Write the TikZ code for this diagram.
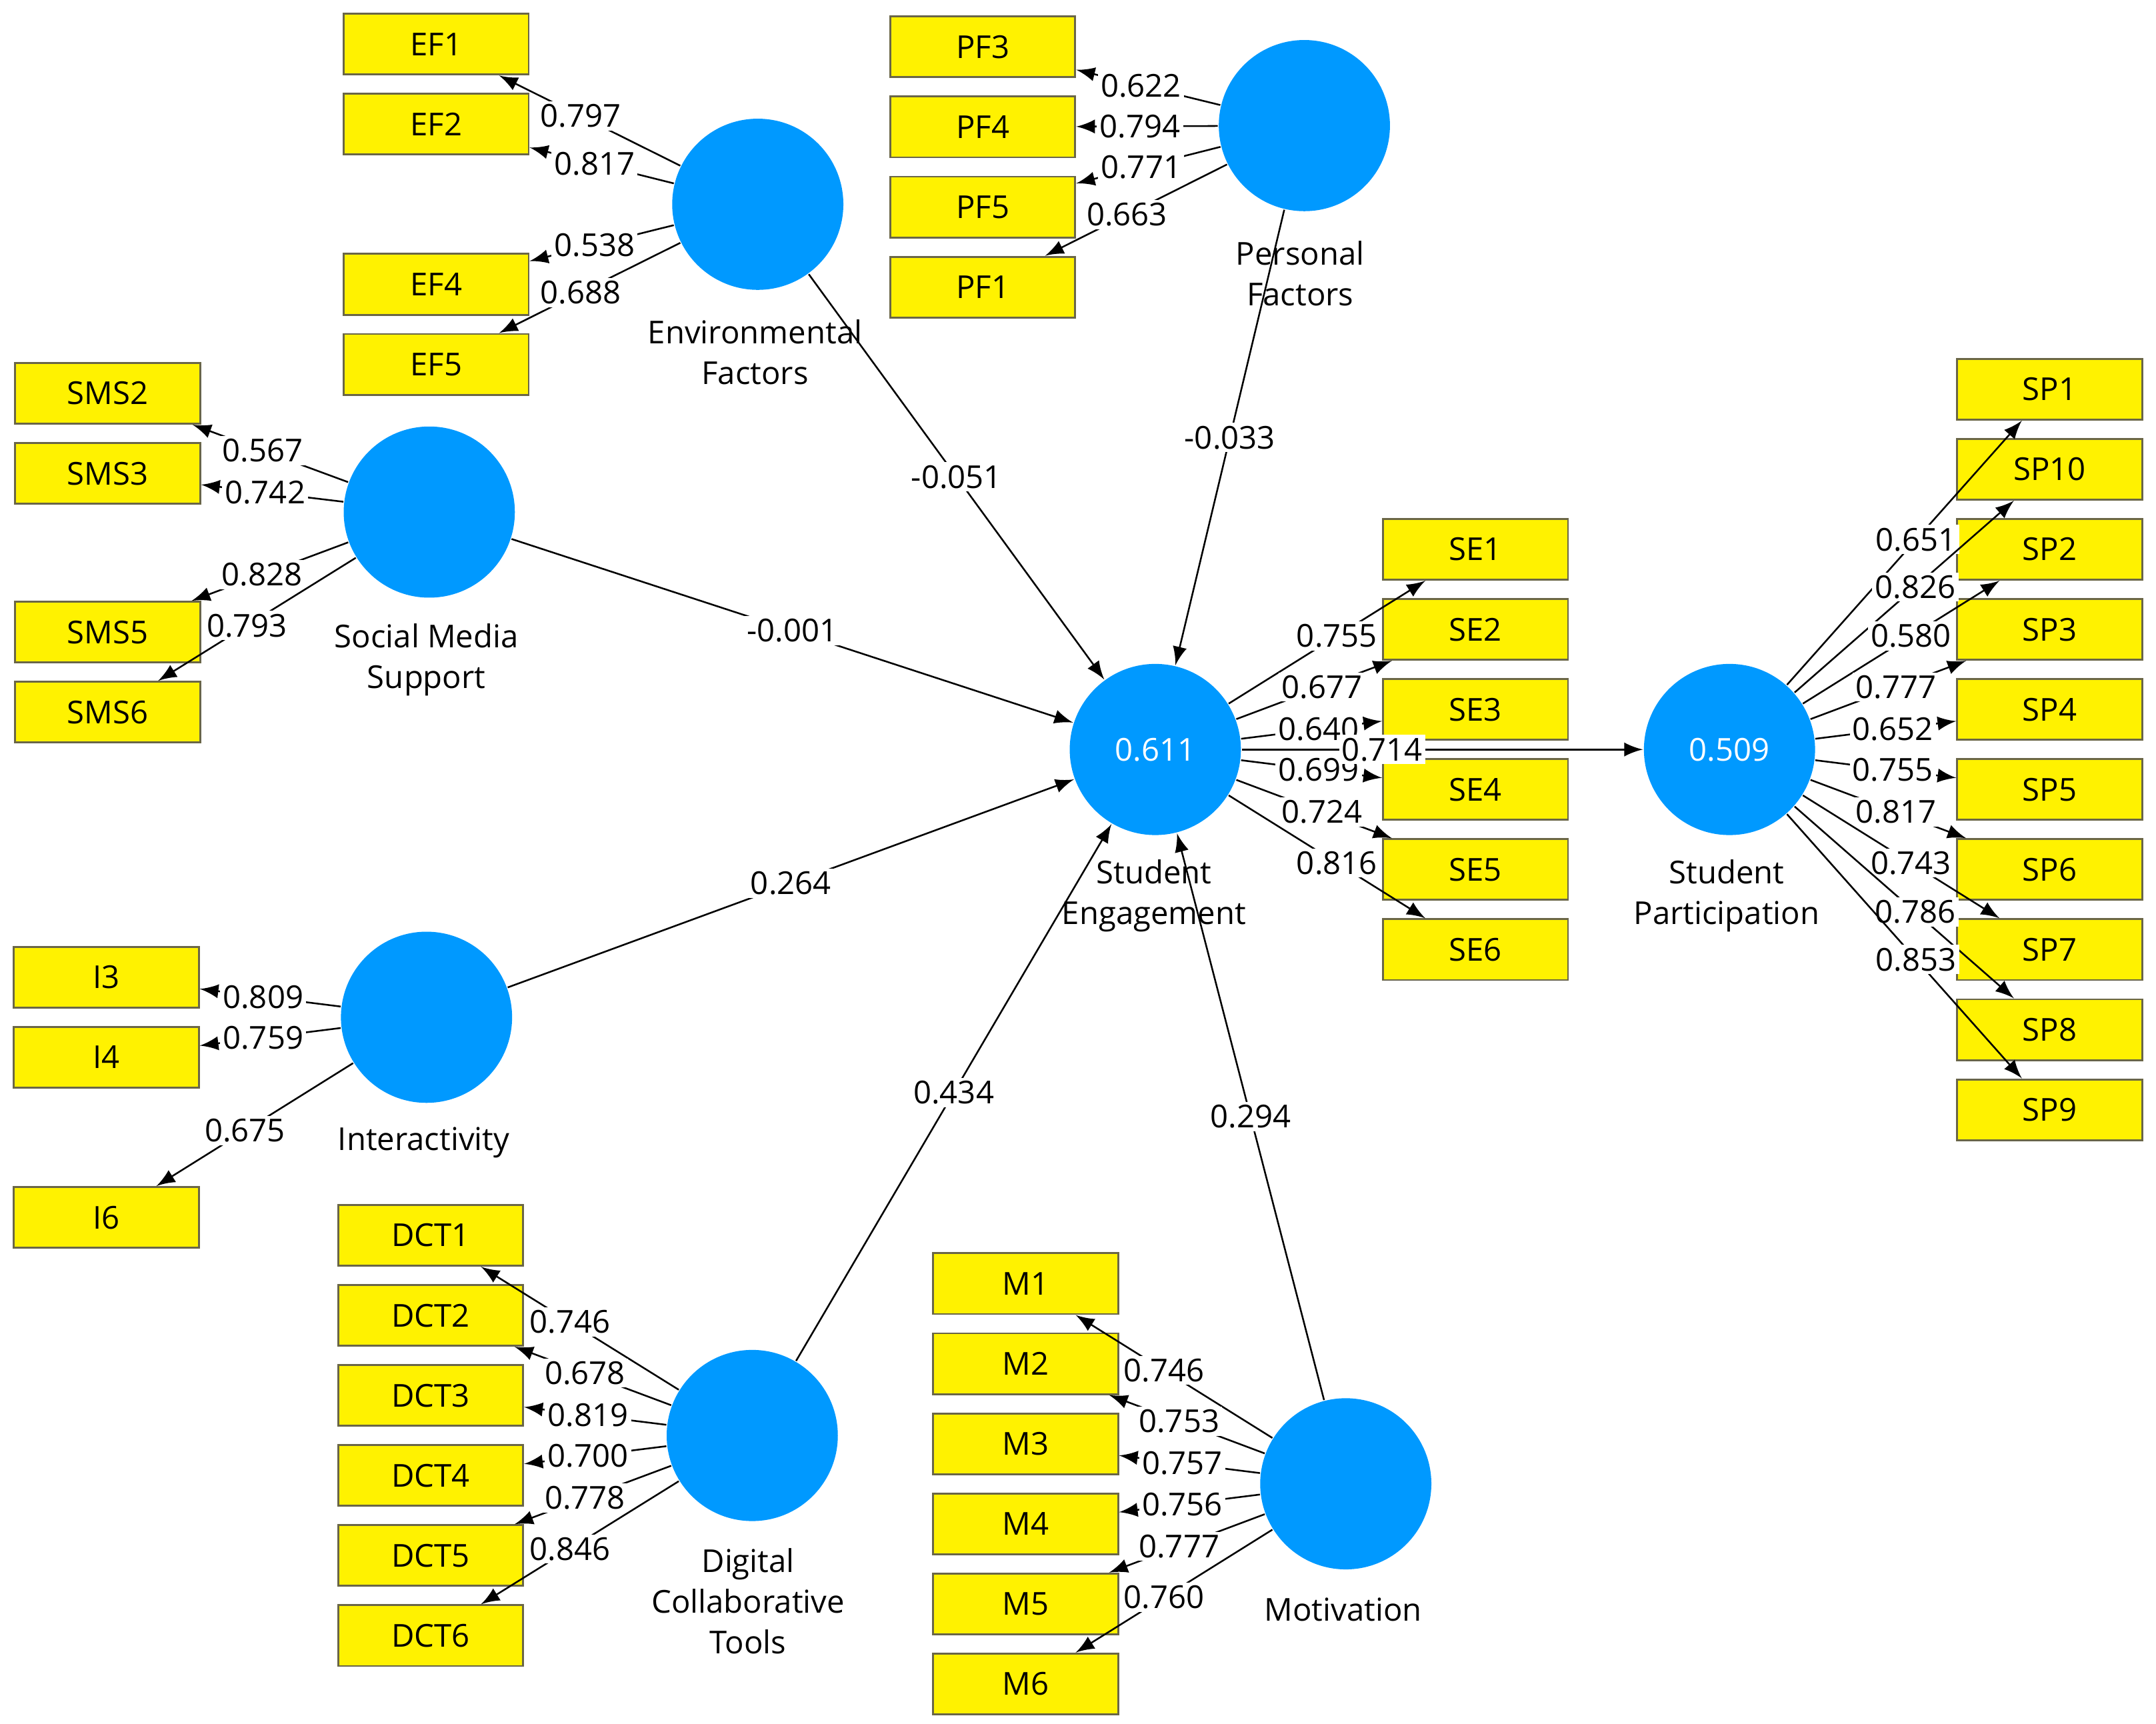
\documentclass[tikz,border=0pt]{standalone}
\usepackage{fontspec}
\setmainfont{Open Sans}
\begin{document}
\begin{tikzpicture}[x=0.1mm,y=-0.1mm,
 box/.style={draw=black!45!yellow!60!black,fill=yellow,minimum width=13.4mm,minimum height=4.4mm,inner sep=0pt,font=\fontsize{6.5}{7}\selectfont},
 lv/.style={circle,fill=cyan!60!blue!90!white,fill=blue!40!cyan,minimum size=12.4mm,inner sep=0pt,text=white,font=\fontsize{6.5}{7}\selectfont},
 nm/.style={align=center,font=\fontsize{6.5}{8.4}\selectfont},
 lab/.style={fill=white,inner sep=0.6pt,font=\fontsize{6.5}{7}\selectfont},
 ar/.style={-latex,black,line width=0.35pt}]
\useasboundingbox (0,0) rectangle (1562,1249);
\definecolor{lvb}{RGB}{0,153,255}
\tikzset{lv/.append style={fill=lvb}}
% latent variables
\node[lv] (EF) at (549,148) {};
\node[lv] (PF) at (945,91) {};
\node[lv] (SMS) at (311,371) {};
\node[lv] (I) at (309,737) {};
\node[lv] (DCT) at (545,1040) {};
\node[lv] (M) at (975,1075) {};
\node[lv] (SE) at (837,543) {0.611};
\node[lv] (SP) at (1253,543) {0.509};
\node[nm] (EFn) at (547,255) {Environmental\\Factors};
\node[nm] (PFn) at (942,198) {Personal\\Factors};
\node[nm] (SMSn) at (309,478) {Social Media\\Support};
\node[nm] (In) at (307,828) {Interactivity};
\node[nm] (SEn) at (836,649) {Student\\Engagement};
\node[nm] (SPn) at (1251,649) {Student\\Participation};
\node[nm] (DCTn) at (542,1160) {Digital\\Collaborative\\Tools};
\node[nm] (Mn) at (973,1166) {Motivation};
% indicators
\foreach \n/\y in {EF1/32,EF2/90,EF4/206,EF5/264} \node[box] (\n) at (316,\y) {\n};
\foreach \n/\y in {PF3/34,PF4/92,PF5/150,PF1/208} \node[box] (\n) at (712,\y) {\n};
\foreach \n/\y in {SMS2/285,SMS3/343,SMS5/458,SMS6/516} \node[box] (\n) at (78,\y) {\n};
\foreach \n/\y in {I3/708,I4/766,I6/882} \node[box] (\n) at (77,\y) {\n};
\foreach \n/\y in {DCT1/895,DCT2/953,DCT3/1011,DCT4/1069,DCT5/1127,DCT6/1185} \node[box] (\n) at (312,\y) {\n};
\foreach \n/\y in {M1/930,M2/988,M3/1046,M4/1104,M5/1162,M6/1220} \node[box] (\n) at (743,\y) {\n};
\foreach \n/\y in {SE1/398,SE2/456,SE3/514,SE4/572,SE5/630,SE6/688} \node[box] (\n) at (1069,\y) {\n};
\foreach \n/\y in {SP1/282,SP10/340,SP2/398,SP3/456,SP4/514,SP5/572,SP6/630,SP7/688,SP8/746,SP9/804} \node[box] (\n) at (1485,\y) {\n};
% loadings
\foreach \c/\b/\v in {EF/EF1/0.797,EF/EF2/0.817,EF/EF4/0.538,EF/EF5/0.688,
 PF/PF3/0.622,PF/PF4/0.794,PF/PF5/0.771,PF/PF1/0.663,
 SMS/SMS2/0.567,SMS/SMS3/0.742,SMS/SMS5/0.828,SMS/SMS6/0.793,
 I/I3/0.809,I/I4/0.759,I/I6/0.675,
 DCT/DCT1/0.746,DCT/DCT2/0.678,DCT/DCT3/0.819,DCT/DCT4/0.700,DCT/DCT5/0.778,DCT/DCT6/0.846,
 M/M1/0.746,M/M2/0.753,M/M3/0.757,M/M4/0.756,M/M5/0.777,M/M6/0.760,
 SE/SE1/0.755,SE/SE2/0.677,SE/SE3/0.640,SE/SE4/0.699,SE/SE5/0.724,SE/SE6/0.816,
 SP/SP1/0.651,SP/SP10/0.826,SP/SP2/0.580,SP/SP3/0.777,SP/SP4/0.652,SP/SP5/0.755,SP/SP6/0.817,SP/SP7/0.743,SP/SP8/0.786,SP/SP9/0.853}
 \draw[ar] (\c) -- node[lab,pos=0.55] {\v} (\b);
% structural paths
\draw[ar] (EF) -- node[lab] {-0.051} (SE);
\draw[ar] (PF) -- node[lab] {-0.033} (SE);
\draw[ar] (SMS) -- node[lab] {-0.001} (SE);
\draw[ar] (I) -- node[lab] {0.264} (SE);
\draw[ar] (DCT) -- node[lab] {0.434} (SE);
\draw[ar] (M) -- node[lab] {0.294} (SE);
\draw[ar] (SE) -- node[lab,pos=0.35] {0.714} (SP);
\end{tikzpicture}
\end{document}
